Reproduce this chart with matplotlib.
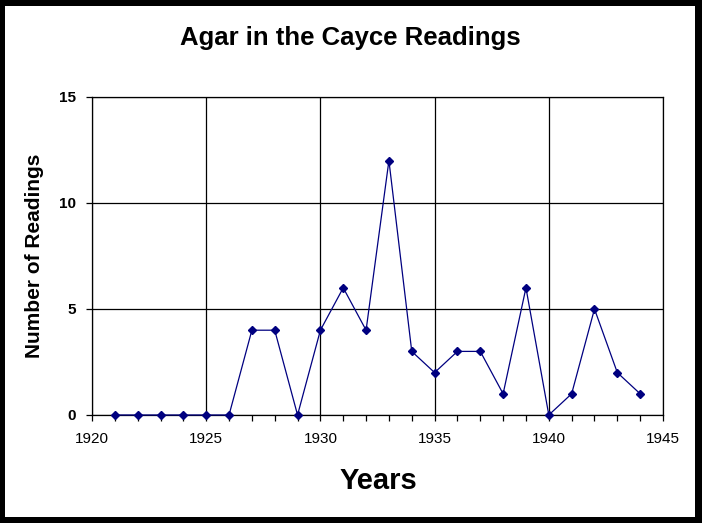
import matplotlib
matplotlib.use("Agg")
import matplotlib.pyplot as plt
from matplotlib.patches import Rectangle
from matplotlib.ticker import MultipleLocator

years = list(range(1921, 1945))
readings = [0, 0, 0, 0, 0, 0, 4, 4, 0, 4, 6, 4, 12, 3, 2, 3, 3, 1, 6, 0, 1, 5, 2, 1]
title = "Agar in the Cayce Readings"
xlabel = "Years"
ylabel = "Number of Readings"

W, H = 702, 523
plt.rcParams['font.family'] = ['Liberation Sans', 'DejaVu Sans']
fig = plt.figure(figsize=(W / 100, H / 100), dpi=100)
fig.patch.set_facecolor('black')
bg = Rectangle((5 / W, (H - 517) / H), 690 / W, 511 / H,
               transform=fig.transFigure, facecolor='white',
               edgecolor='none', zorder=-10)
fig.patches.append(bg)

ax = fig.add_axes([92 / W, (H - 415) / H, 571 / W, 318 / H])
ax.set_zorder(5)
ax.set_facecolor('white')
ax.plot(years, readings, color='#000080', linewidth=0.9, marker='D',
        markersize=4.5, markerfacecolor='#000080', markeredgecolor='#000080',
        clip_on=False, zorder=3)

ax.set_xlim(1920, 1945)
ax.set_ylim(0, 15)
ax.xaxis.set_major_locator(MultipleLocator(5))
ax.xaxis.set_minor_locator(MultipleLocator(1))
ax.yaxis.set_major_locator(MultipleLocator(5))
ax.grid(True, which='major', color='black', linewidth=0.9)
for s in ax.spines.values():
    s.set_color('black')
    s.set_linewidth(0.9)
ax.tick_params(axis='x', which='both', direction='out', length=4, width=0.9,
               labelsize=11, pad=8)
ax.tick_params(axis='y', which='both', direction='out', length=4.5, width=0.9,
               labelsize=11, pad=7)
for lbl in ax.get_yticklabels():
    lbl.set_fontweight('bold')

fig.text(350 / W, 1 - 38 / H, title, ha='center', va='center',
         fontsize=18.5, fontweight='bold', zorder=6)
fig.text(378 / W, 1 - 481 / H, xlabel, ha='center', va='center',
         fontsize=21, fontweight='bold', zorder=6)
fig.text(35 / W, 1 - 256 / H, ylabel, ha='center', va='center',
         rotation=90, fontsize=15, fontweight='bold', zorder=6)

fig.savefig("out.png", dpi=100, facecolor=fig.get_facecolor())
